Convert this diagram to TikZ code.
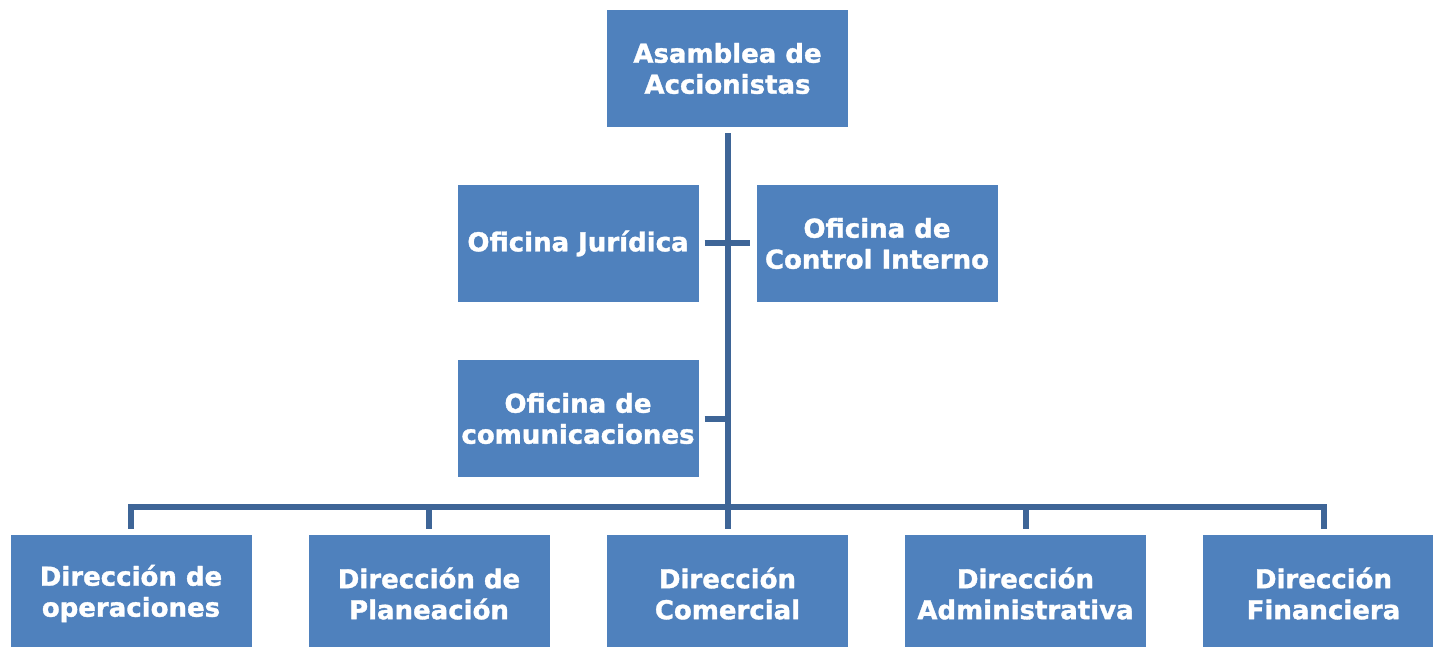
\documentclass[tikz,border=0pt]{standalone}
\usepackage{fontspec}
\setmainfont{DejaVu Sans}[BoldFeatures={FakeBold=1.3}]
\definecolor{boxblue}{HTML}{4F81BD}
\definecolor{lineblue}{HTML}{3E6597}
\tikzset{
  orgbox/.style={fill=boxblue, draw=none, minimum width=241pt, minimum height=117pt, inner sep=0pt,
    align=center, text=white, font=\fontsize{26}{31}\selectfont\bfseries},
  link/.style={draw=lineblue, line width=6pt, line join=miter}
}
\begin{document}
\begin{tikzpicture}[x=1pt,y=-1pt]
\useasboundingbox (0,0) rectangle (1433,647);
\clip (0,0) rectangle (1433,647);
\fill[white] (0,0) rectangle (1433,647);
\node[orgbox] (top) at (727.5,68.5) {Asamblea de\\Accionistas};
\node[orgbox] (jur) at (578,243.5) {Oficina Jurídica};
\node[orgbox] (ctrl) at (877,243.5) {Oficina de\\Control Interno};
\node[orgbox] (com) at (578,418.5) {Oficina de\\comunicaciones};
\node[orgbox] (b1) at (131,593.5) {Dirección de\\operaciones};
\node[orgbox] (b2) at (429,593.5) {Dirección de\\Planeación};
\node[orgbox] (b3) at (727.5,593.5) {Dirección\\Comercial};
\node[orgbox] (b4) at (1025.5,593.5) {Dirección\\Administrativa};
\node[orgbox] (b5) at (1323.5,593.5) {Dirección\\Financiera};
\coordinate (bus) at (727.5,506.5);
\draw[link] ([yshift=-6pt]top.south) -- ([yshift=6pt]b3.north);
\draw[link] ([xshift=6pt]jur.east) -- ([xshift=-6pt]ctrl.west);
\draw[link] ([xshift=6pt]com.east) -- (com.east -| top.south);
\draw[link] ([yshift=6pt]b1.north) |- (bus) -| ([yshift=6pt]b5.north);
\draw[link] ([yshift=6pt]b2.north) -- (b2.north |- bus);
\draw[link] ([yshift=6pt]b4.north) -- (b4.north |- bus);
\end{tikzpicture}
\end{document}
